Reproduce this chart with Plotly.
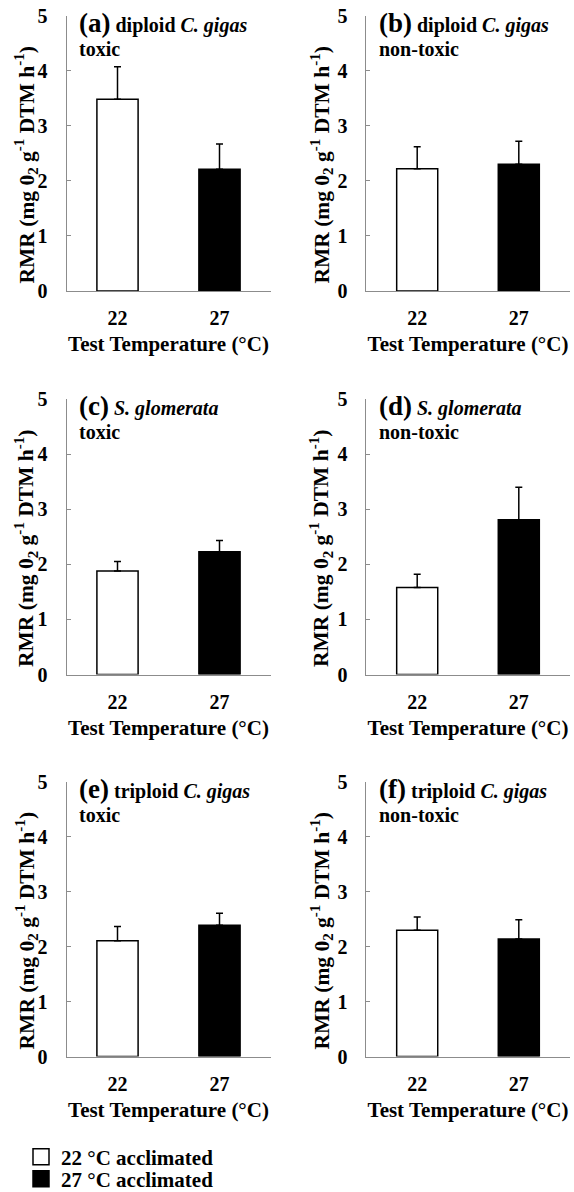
import plotly.graph_objects as go

# ---- data ----
panel_letters = ["(a)", "(b)", "(c)", "(d)", "(e)", "(f)"]
species = ["diploid <i>C. gigas</i>", "diploid <i>C. gigas</i>",
           "<i>S. glomerata</i>", "<i>S. glomerata</i>",
           "triploid <i>C. gigas</i>", "triploid <i>C. gigas</i>"]
treatment = ["toxic", "non-toxic", "toxic", "non-toxic", "toxic", "non-toxic"]
test_temps = ["22", "27"]
rmr_22 = [3.48, 2.22, 1.88, 1.58, 2.11, 2.30]
err_22 = [0.59, 0.40, 0.17, 0.24, 0.26, 0.24]
rmr_27 = [2.21, 2.30, 2.23, 2.81, 2.39, 2.14]
err_27 = [0.46, 0.42, 0.20, 0.59, 0.22, 0.35]
legend_names = ["22 °C acclimated", "27 °C acclimated"]
y_ticks = [0, 1, 2, 3, 4, 5]
y_title = "RMR (mg 0<sub>2</sub> g<sup>-1</sup> DTM h<sup>-1</sup>)"
x_title = "Test Temperature (°C)"

W, H = 574, 1192
FONT = "Liberation Serif"
AX = "#8c8c8c"

x_domains = [[66.5 / W, 270.5 / W], [366.4 / W, 569.6 / W]]
ytitle_dx = [-40, -45]
row_px = [(15.6, 291.0), (399.0, 674.5), (782.0, 1056.5)]
y_domains = [[1 - b / H, 1 - t / H] for t, b in row_px]

fig = go.Figure()
layout = dict(
    width=W, height=H,
    margin=dict(l=0, r=0, t=0, b=0, autoexpand=False),
    plot_bgcolor="white", paper_bgcolor="white",
    font=dict(family=FONT, color="black", size=20),
    barmode="overlay",
    showlegend=True,
)
annotations = []

for i in range(6):
    r, c = divmod(i, 2)
    n = i + 1
    xa = "x" if n == 1 else f"x{n}"
    ya = "y" if n == 1 else f"y{n}"
    fig.add_trace(go.Bar(
        x=[test_temps[0]], y=[rmr_22[i]], xaxis=xa, yaxis=ya, width=0.404,
        marker=dict(color="white", line=dict(color="black", width=1.5)),
        error_y=dict(type="data", array=[err_22[i]], arrayminus=[0], symmetric=False,
                     color="black", thickness=1.5, width=3.5),
        showlegend=False, name=legend_names[0]))
    fig.add_trace(go.Bar(
        x=[test_temps[1]], y=[rmr_27[i]], xaxis=xa, yaxis=ya, width=0.404,
        marker=dict(color="black", line=dict(color="black", width=1.5)),
        error_y=dict(type="data", array=[err_27[i]], arrayminus=[0], symmetric=False,
                     color="black", thickness=1.5, width=3.5),
        showlegend=False, name=legend_names[1]))

    xkey = "xaxis" if n == 1 else f"xaxis{n}"
    ykey = "yaxis" if n == 1 else f"yaxis{n}"
    layout[xkey] = dict(
        domain=x_domains[c], anchor=ya, type="category",
        categoryorder="array", categoryarray=test_temps,
        range=[-0.5, 1.5], showline=True, linecolor=AX, linewidth=1,
        ticks="", showgrid=False, zeroline=False,
        tickfont=dict(family=FONT, size=20, weight="bold"),
        ticklabelstandoff=9,
        title=dict(text=f"<b>{x_title}</b>",
                   font=dict(family=FONT, size=21), standoff=8),
    )
    layout[ykey] = dict(
        domain=y_domains[r], anchor=xa, range=[0, 5],
        tickvals=y_ticks, showline=True, linecolor=AX, linewidth=1,
        ticks="inside", ticklen=4, tickcolor=AX, tickwidth=1,
        showgrid=False, zeroline=False,
        tickfont=dict(family=FONT, size=20, weight="bold"),
        ticklabelstandoff=14,
    )
    # y-axis title (placed slightly below the axis centre, as in the original)
    annotations.append(dict(
        xref=f"{xa} domain", yref=f"{ya} domain", x=ytitle_dx[c] / 204, y=0.4575,
        xanchor="center", yanchor="middle", textangle=-90, showarrow=False,
        text=f"<b>{y_title}</b>",
        font=dict(family=FONT, size=21.5, color="black")))
    annotations.append(dict(
        xref=f"{xa} domain", yref=f"{ya} domain", x=0.05, y=1 - 7 / 275.4,
        xanchor="left", yanchor="middle", showarrow=False,
        text=f"<b><span style='font-size:27px'>{panel_letters[i]}</span> {species[i]}</b>",
        font=dict(family=FONT, size=20, color="black")))
    annotations.append(dict(
        xref=f"{xa} domain", yref=f"{ya} domain", x=0.05, y=1 - 33 / 275.4,
        xanchor="left", yanchor="middle", showarrow=False,
        text=f"<b>{treatment[i]}</b>",
        font=dict(family=FONT, size=20, color="black")))

# legend proxies
fig.add_trace(go.Scatter(x=[None], y=[None], mode="markers", name=f"<b>{legend_names[0]}</b>",
                         marker=dict(symbol="square", size=16, color="white",
                                     line=dict(color="black", width=1.5)),
                         legend="legend"))
fig.add_trace(go.Scatter(x=[None], y=[None], mode="markers", name=f"<b>{legend_names[1]}</b>",
                         marker=dict(symbol="square", size=16, color="black",
                                     line=dict(color="black", width=1.5)),
                         legend="legend2"))

leg_common = dict(xanchor="left", yanchor="middle", bgcolor="rgba(0,0,0,0)",
                  xref="container", yref="container",
                  font=dict(family=FONT, size=21, color="black"),
                  itemclick=False, itemdoubleclick=False)
layout["legend"] = dict(x=21 / W, y=1 - 1157 / H, **leg_common)
layout["legend2"] = dict(x=21 / W, y=1 - 1179 / H, **leg_common)
layout["annotations"] = annotations

fig.update_layout(**layout)
fig.write_html("out.html")
